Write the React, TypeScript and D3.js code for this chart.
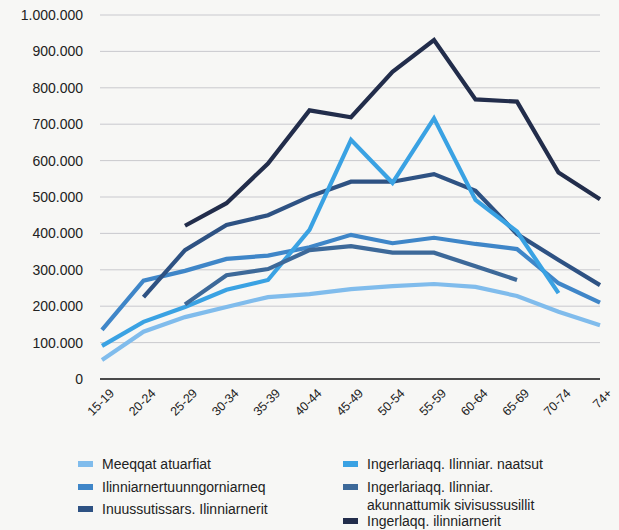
import React, { useRef, useEffect } from 'react'
import * as d3 from 'd3'

const ageGroups = ['15-19', '20-24', '25-29', '30-34', '35-39', '40-44', '45-49', '50-54', '55-59', '60-64', '65-69', '70-74', '74+']
const yTicks = [0, 100000, 200000, 300000, 400000, 500000, 600000, 700000, 800000, 900000, 1000000]

const meeqqat = [52000, 130000, 170000, 198000, 225000, 233000, 247000, 255000, 261000, 253000, 228000, 185000, 148000]
const ilinniarnertuu = [135000, 270000, 297000, 330000, 339000, 362000, 396000, 373000, 388000, 371000, 357000, 263000, 210000]
const inuussutissars = [null, 225000, 354000, 423000, 450000, 501000, 542000, 542000, 563000, 517000, 398000, 327000, 258000]
const naatsut = [91000, 157000, 198000, 245000, 272000, 410000, 657000, 539000, 716000, 492000, 405000, 236000, null]
const akunnattumik = [null, null, 205000, 285000, 302000, 354000, 365000, 347000, 347000, 310000, 272000, null, null]
const ingerlaqq = [null, null, 421000, 483000, 592000, 738000, 719000, 844000, 931000, 768000, 762000, 567000, 494000]

const seriesNames = [
  'Meeqqat atuarfiat',
  'Ilinniarnertuunngorniarneq',
  'Inuussutissars. Ilinniarnerit',
  'Ingerlariaqq. Ilinniar. naatsut',
  'Ingerlariaqq. Ilinniar.\nakunnattumik sivisussusillit',
  'Ingerlaqq. ilinniarnerit',
]
const seriesValues = [meeqqat, ilinniarnertuu, inuussutissars, naatsut, akunnattumik, ingerlaqq]
const colors = ['#80bcec', '#3f86c8', '#2e5283', '#3aa2e3', '#3d6999', '#222d4b']

const App = () => {
  const svgRef = useRef<SVGSVGElement>(null)

  useEffect(() => {
    const w = 619
    const h = 530
    const svg = d3.select(svgRef.current)
    svg.selectAll('*').remove()
    svg.attr('width', w).attr('height', h)

    svg.append('rect').attr('width', w).attr('height', h).attr('fill', '#f7f7f5')

    const x = d3.scalePoint().domain(ageGroups).range([102, 600])
    const y = d3.scaleLinear().domain([0, 1000000]).range([379, 15])
    const fmt = (v: number) => (v === 0 ? '0' : d3.format(',')(v).replace(/,/g, '.'))

    // grid + y labels
    svg.append('g').selectAll('line')
      .data(yTicks.filter(t => t > 0))
      .join('line')
      .attr('x1', 100).attr('x2', 600)
      .attr('y1', d => y(d)).attr('y2', d => y(d))
      .attr('stroke', '#c9c9ce').attr('stroke-width', 1)

    svg.append('g').selectAll('text')
      .data(yTicks)
      .join('text')
      .attr('x', 83).attr('y', d => y(d))
      .attr('dy', '0.35em')
      .attr('text-anchor', 'end')
      .attr('font-family', 'Liberation Sans, Arial, sans-serif')
      .attr('font-size', 14)
      .attr('fill', '#222')
      .text(d => fmt(d))

    svg.append('line')
      .attr('x1', 100).attr('x2', 600)
      .attr('y1', y(0)).attr('y2', y(0))
      .attr('stroke', '#111').attr('stroke-width', 1.5)

    // x labels
    svg.append('g').selectAll('text')
      .data(ageGroups)
      .join('text')
      .attr('transform', d => `translate(${(x(d) as number) + 13},${394}) rotate(-45)`)
      .attr('text-anchor', 'end')
      .attr('font-family', 'Liberation Sans, Arial, sans-serif')
      .attr('font-size', 12.5)
      .attr('fill', '#222')
      .text(d => d)

    const line = d3.line<number | null>()
      .defined(d => d !== null)
      .x((d, i) => x(ageGroups[i]) as number)
      .y(d => y(d as number))

    svg.append('g').selectAll('path')
      .data(seriesValues)
      .join('path')
      .attr('d', d => line(d))
      .attr('fill', 'none')
      .attr('stroke', (d, i) => colors[i])
      .attr('stroke-width', 4.2)
      .attr('stroke-linejoin', 'miter')

    // legend
    const legendPos = [
      [78, 464], [78, 487], [78, 509],
      [343, 464], [343, 487], [343, 521],
    ]
    const lg = svg.append('g')
    seriesNames.forEach((name, i) => {
      const [lx, ly] = legendPos[i]
      lg.append('rect')
        .attr('x', lx).attr('y', ly - 3)
        .attr('width', 15).attr('height', 6)
        .attr('fill', colors[i])
      const t = lg.append('text')
        .attr('x', lx + 24).attr('y', ly)
        .attr('font-family', 'Liberation Sans, Arial, sans-serif')
        .attr('font-size', 14)
        .attr('fill', '#222')
      name.split('\n').forEach((part, j) => {
        t.append('tspan').attr('x', lx + 24).attr('dy', j === 0 ? '0.35em' : 18).text(part)
      })
    })
  }, [])

  return (
    <svg ref={svgRef} style={{ position: 'absolute', left: 0, top: 0 }}></svg>
  )
}

export default App
